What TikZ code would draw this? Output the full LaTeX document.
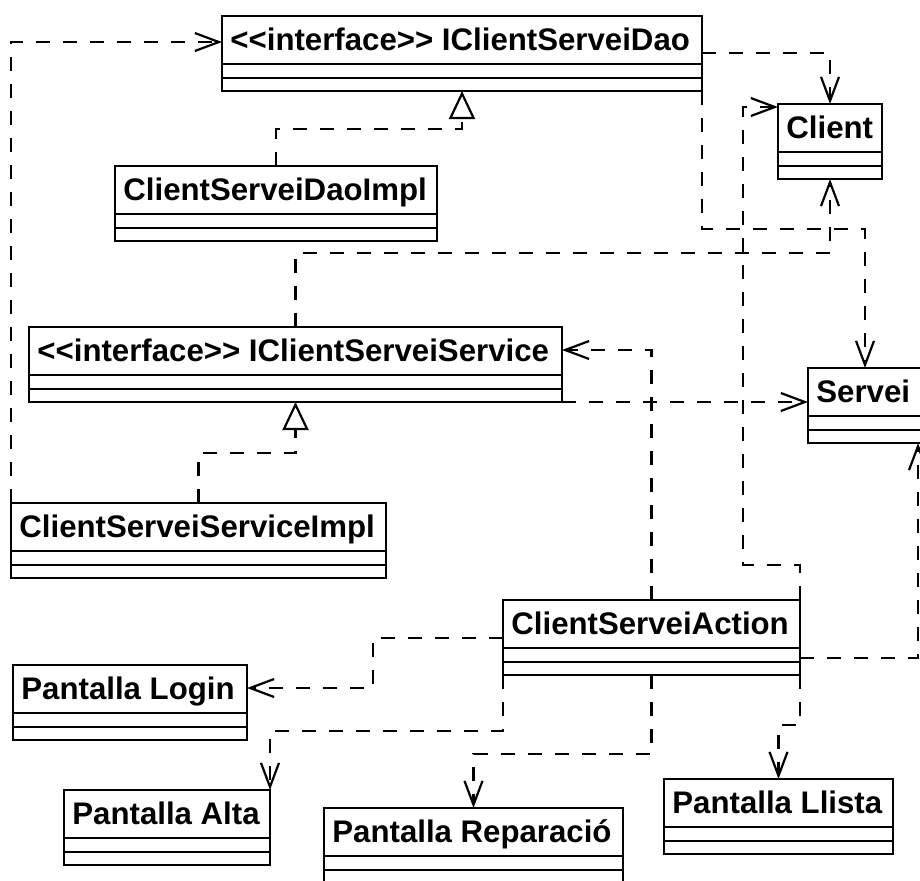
\documentclass[tikz,border=0pt]{standalone}
\usepackage{fontspec}
\setmainfont{Liberation Sans}
\usetikzlibrary{arrows.meta,calc}

% one unit = one pixel of the 920 x 880 sheet, y grows downwards
\tikzset{
  clsbox/.style={draw, line width=1.1pt, rectangle, inner sep=0pt, outer sep=0pt,
    anchor=north west, minimum height=37.5pt, fill=white},
  clsname/.style={anchor=base west, inner sep=0pt,
    font=\bfseries\fontsize{15.6pt}{18pt}\selectfont},
  clssep/.style={line width=1.1pt},
  dashline/.style={line width=1.1pt, dash pattern=on 7pt off 6.5pt},
  dep/.style={dashline, -{Straight Barb[length=12pt,width=9pt]}},
  real/.style={dashline, -{Triangle[open,length=14pt,width=13pt,fill=white]}},
}

% UML class: name, left, top, width, title
\newcommand\umlclass[5]{%
  \node[clsbox, minimum width=#4*0.5pt] (#1) at (#2,#3) {};
  \node[clsname] (#1-name) at ($(#1.north west)+(8,34)$) {#5};
  \draw[clssep] ($(#1.north west)+(0,48)$) -- ($(#1.north east)+(0,48)$);
  \draw[clssep] ($(#1.north west)+(0,62)$) -- ($(#1.north east)+(0,62)$);
}
% stereotype brackets kept as two separate characters
\newcommand\ifc{<{}<interface>{}>}

\begin{document}
\begin{tikzpicture}[x=0.5pt,y=-0.5pt]
  \useasboundingbox (0,0) rectangle (920,880);
  \clip (0,0) rectangle (920,880);

  % classes
  \umlclass{dao}{222}{16}{480}{\ifc{} IClientServeiDao}
  \umlclass{daoimpl}{115}{166}{322}{ClientServeiDaoImpl}
  \umlclass{client}{778}{104}{104}{Client}
  \umlclass{svc}{29}{327}{533}{\ifc{} IClientServeiService}
  \umlclass{servei}{808}{368}{114}{Servei}
  \umlclass{svcimpl}{11}{503}{375}{ClientServeiServiceImpl}
  \umlclass{action}{503}{600}{297}{ClientServeiAction}
  \umlclass{login}{13}{665}{234}{Pantalla Login}
  \umlclass{alta}{64}{790}{206}{Pantalla Alta}
  \umlclass{repar}{324}{808}{299}{Pantalla Reparació}
  \umlclass{llista}{664}{779}{229}{Pantalla Llista}

  % realizations
  \draw[real] (daoimpl.north) -- ++(0,-37) -| (dao.south);
  \draw[real] (svcimpl.north) -- ++(0,-50) -| (svc.south);

  % dependencies
  \draw[dep] (svcimpl.north west) |- ($(dao.north west)+(0,26)$);
  \draw[dep] ($(dao.north east)+(0,37)$) -| (client.north);
  \draw[dep] (dao.south east) -- ++(0,138) -| (servei.north);
  \draw[dep] (svc.north) -- ++(0,-74) -| (client.south);
  \draw[dep] (svc.south east) -- (servei.west |- svc.south east);
  \draw[dep] (action.north) |- ($(svc.north east)+(0,23)$);
  \draw[dep] (action.north east) -- ++(0,-35) -- ++(-57,0) |- ($(client.north west)+(0,3)$);
  \draw[dep] ($(action.north west)+(0,38)$) -- ++(-130,0) |- ($(login.north east)+(0,23)$);
  \draw[dep] (action.south west) -- ++(0,56) -| (alta.north east);
  \draw[dep] (action.south) -- ++(0,79) -| (repar.north);
  \draw[dep] (action.south east) -- ++(0,50) -| (llista.north);
  \draw[dep] ($(action.north east)+(0,58)$) -| ($(servei.south east)+(-4,0)$);
\end{tikzpicture}
\end{document}
